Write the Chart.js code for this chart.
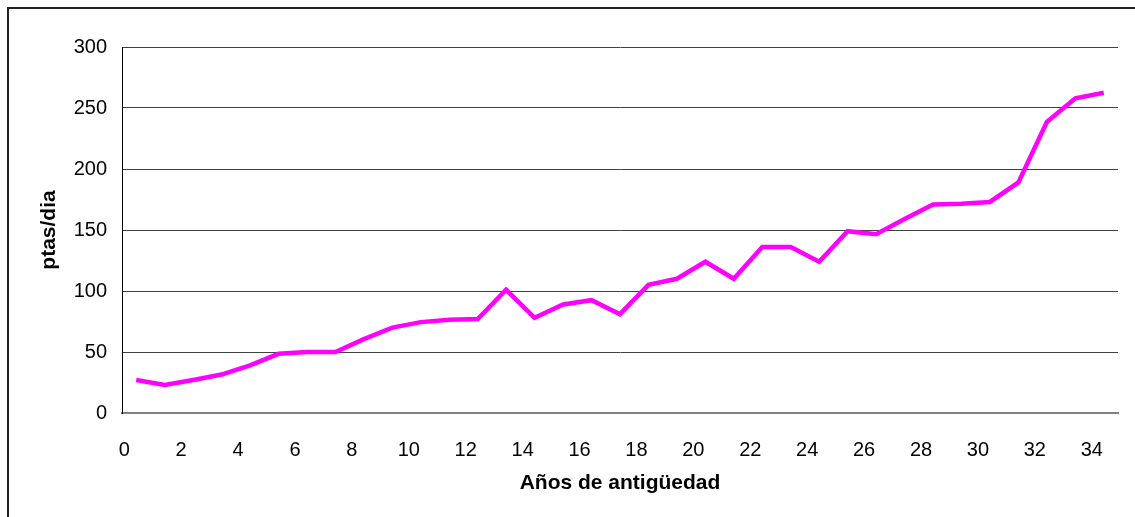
<!DOCTYPE html>
<html>
<head>
<meta charset="utf-8">
<title>ptas/dia por años de antigüedad</title>
<script src="https://cdn.jsdelivr.net/npm/chart.js@4/dist/chart.umd.min.js"></script>
<style>
  html, body { margin: 0; padding: 0; background: #fff; overflow: hidden; }
  #wrap { position: relative; width: 1135px; height: 517px; }
  #frame { position: absolute; left: 7px; top: 7px; width: 1200px; height: 600px;
           border-left: 2px solid #222; border-top: 2px solid #222; }
  #chart { position: absolute; left: 0; top: 0; }
</style>
</head>
<body>
<div id="wrap">
  <div id="frame"></div>
  <canvas id="chart" width="1135" height="517"></canvas>
</div>
<script>
/* ─── Datos ───────────────────────────────────────────── */
const YEARS = [0, 1, 2, 3, 4, 5, 6, 7, 8, 9, 10, 11, 12, 13, 14, 15, 16, 17,
               18, 19, 20, 21, 22, 23, 24, 25, 26, 27, 28, 29, 30, 31, 32, 33, 34];
const PTAS  = [27, 23, 27, 31.5, 39, 48.5, 50, 50, 60.5, 70, 74.5, 76.5, 77, 101, 78, 89, 92.5, 81,
               105, 110, 124, 110, 136, 136, 124, 149, 146.5, 159, 171, 171.5, 173, 189, 238.5, 258, 262.5];
const X_TICKS = [0, 2, 4, 6, 8, 10, 12, 14, 16, 18, 20, 22, 24, 26, 28, 30, 32, 34];
const Y_TICKS = [0, 50, 100, 150, 200, 250, 300];

const FONT = 'Liberation Sans, Arial, sans-serif';

new Chart(document.getElementById('chart'), {
  type: 'line',
  data: {
    datasets: [{
      data: YEARS.map((x, i) => ({ x, y: PTAS[i] })),
      borderColor: '#ff00ff', borderWidth: 4.5,
      pointRadius: 0, tension: 0, fill: false,
    }],
  },
  options: {
    responsive: false, animation: false, devicePixelRatio: 1,
    layout: { padding: { left: 28, top: 47, right: 17, bottom: 14 } },
    plugins: { legend: { display: false }, tooltip: { enabled: false } },
    scales: {
      x: {
        type: 'linear', min: -0.5, max: 34.5,
        afterBuildTicks: ax => { ax.ticks = X_TICKS.map(v => ({ value: v })); },
        // altura fija y sin relleno lateral automático
        afterFit: ax => { ax.height = 90; ax.paddingLeft = 0; ax.paddingRight = 0; },
        grid: { display: false, drawTicks: false },
        border: { color: '#808080', width: 2 },
        ticks: { padding: 25, labelOffset: -12, maxRotation: 0, autoSkip: false,
                 color: '#000', font: { family: FONT, size: 20 } },
        title: { display: true, text: 'Años de antigüedad', color: '#000',
                 padding: { top: 0, bottom: 7 },
                 font: { family: FONT, size: 21, weight: 'bold' } },
      },
      y: {
        min: 0, max: 300,
        afterBuildTicks: ax => { ax.ticks = Y_TICKS.map(v => ({ value: v })); },
        afterFit: ax => { ax.width = 94; ax.paddingTop = 0; ax.paddingBottom = 0; },
        grid: { color: '#404040', lineWidth: 1, drawTicks: false },
        border: { color: '#000', width: 1 },
        ticks: { padding: 15, color: '#000', font: { family: FONT, size: 20 } },
        title: { display: true, text: 'ptas/dia', color: '#000',
                 padding: { top: 9, bottom: 0 },
                 font: { family: FONT, size: 21, weight: 'bold' } },
      },
    },
  },
});
</script>
</body>
</html>
